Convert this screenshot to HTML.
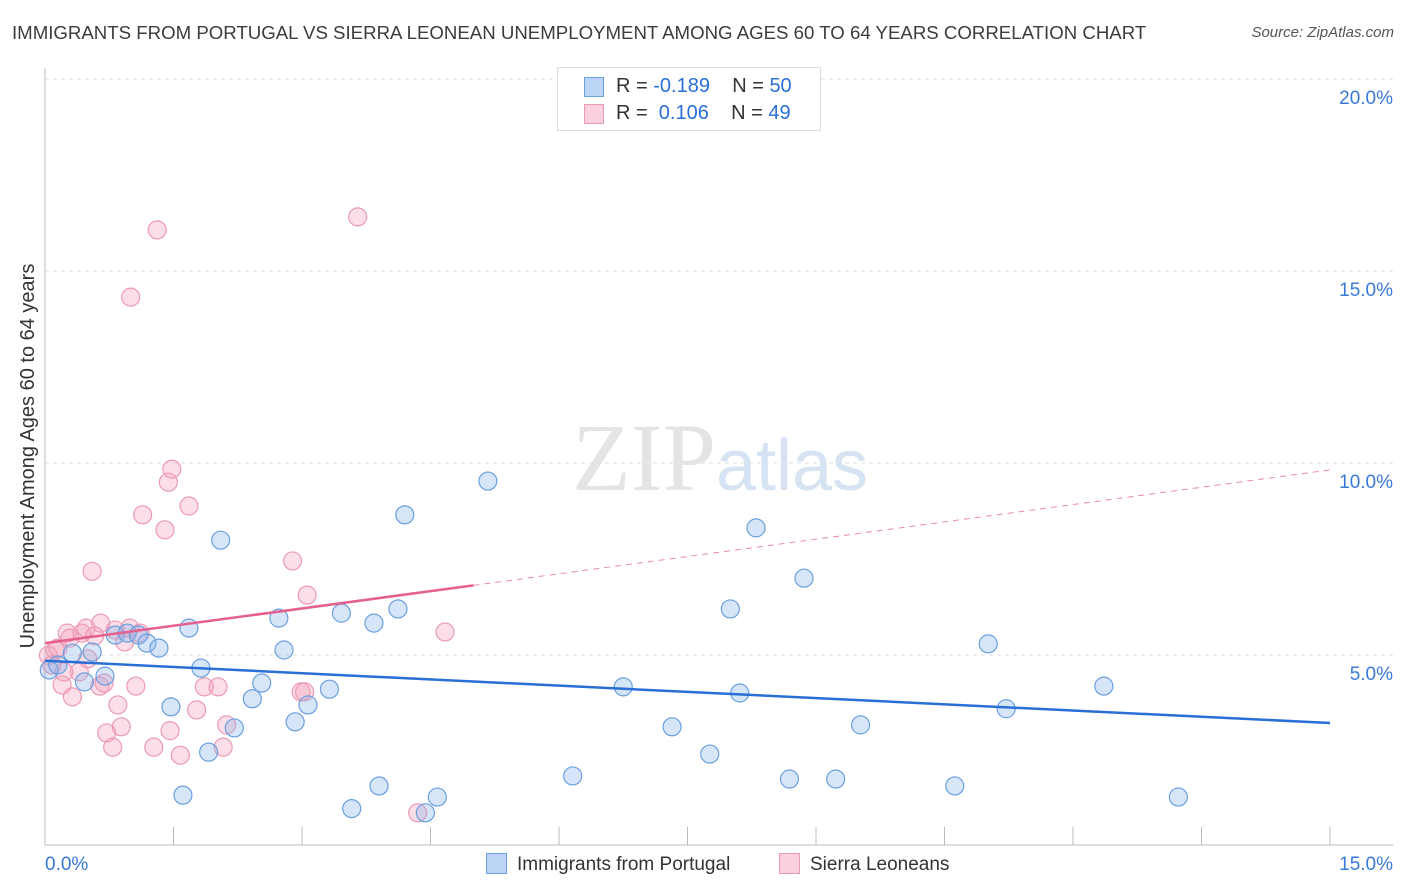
<!DOCTYPE html>
<html><head><meta charset="utf-8"><style>
body{margin:0;background:#fff;font-family:"Liberation Sans",sans-serif;}
#wrap{position:relative;width:1406px;height:892px;overflow:hidden}
.t{position:absolute;white-space:nowrap}
</style></head><body>
<div id="wrap">
<div class="t" style="left:12px;top:22px;font-size:18.65px;color:#3c3c3c">IMMIGRANTS FROM PORTUGAL VS SIERRA LEONEAN UNEMPLOYMENT AMONG AGES 60 TO 64 YEARS CORRELATION CHART</div>
<div class="t" style="right:12px;top:24px;font-size:15px;color:#555;font-style:italic">Source: ZipAtlas.com</div>
<svg id="svg" width="1406" height="892" style="position:absolute;left:0;top:0"></svg>
</div>
<script>
const yTicks=[5,10,15,20];
const xTickLabels=["0.0%","15.0%"];
const blueX=[0.05,0.15,0.32,0.55,0.46,0.7,0.82,0.96,1.09,1.19,1.33,1.47,1.61,1.68,1.82,1.91,2.05,2.21,2.42,2.53,2.73,2.79,2.92,3.07,3.32,3.46,3.58,3.84,3.90,4.12,4.20,4.58,4.44,5.17,6.16,6.75,7.32,7.76,8.0,8.11,8.30,8.69,8.86,9.23,9.52,10.62,11.01,11.22,12.36,13.23];
const blueY=[4.61,4.74,5.05,5.08,4.3,4.45,5.52,5.57,5.52,5.31,5.18,3.65,1.35,5.70,4.66,2.47,7.99,3.1,3.86,4.27,5.96,5.13,3.26,3.7,4.11,6.09,1.0,5.83,1.59,6.2,8.65,1.3,0.89,9.53,1.85,4.17,3.13,2.42,6.2,4.01,8.31,1.77,7.0,1.77,3.18,1.59,5.29,3.6,4.19,1.3];
const pinkX=[0.04,0.08,0.12,0.2,0.26,0.32,0.4,0.43,0.48,0.55,0.58,0.65,0.69,0.72,0.79,0.82,0.85,0.89,0.93,1.0,1.06,1.11,1.14,1.27,1.31,1.4,1.44,1.46,1.48,1.58,1.68,1.77,1.86,2.02,2.08,2.12,2.89,2.99,3.03,3.06,3.65,4.35,4.67,0.64,0.5,0.15,0.29,0.99,0.22];
const pinkY=[4.99,4.74,5.13,4.22,5.57,3.91,4.56,5.57,5.7,7.18,5.5,5.83,4.27,2.97,2.6,5.65,3.7,3.13,5.34,14.32,4.19,5.57,8.65,2.6,16.07,8.26,9.5,3.03,9.84,2.39,8.88,3.57,4.17,4.17,2.6,3.18,7.45,4.04,4.04,6.56,16.41,0.89,5.6,4.19,4.9,5.18,5.44,5.7,4.56];
const blueLine=[4.85,3.23];
const pinkLine=[5.31,9.82];
const pinkSolidEnd=5.0;
const X0=45,X1=1330,Y0=847,PY=38.4;
const sx=v=>X0+v/15*(X1-X0), sy=v=>Y0-v*PY;
const svg=document.getElementById('svg');const NS='http://www.w3.org/2000/svg';
function mk(tag,attrs,parent){const e=document.createElementNS(NS,tag);for(const k in attrs)e.setAttribute(k,attrs[k]);(parent||svg).appendChild(e);return e;}
yTicks.forEach(t=>{
 const g=mk('line',{x1:X0,x2:1393,y1:sy(t),y2:sy(t),stroke:'#ddd','stroke-dasharray':'4,4'});
 
 
 const l=mk('text',{x:1393,y:sy(t)+25,'text-anchor':'end','font-size':19,fill:'#3a78d6','font-family':'Liberation Sans'});
 l.textContent=t.toFixed(1)+'%';
 
 
});
const ax=mk('line',{x1:X0,x2:X0,y1:68,y2:845,stroke:'#bbb'});


const bx=mk('line',{x1:X0,x2:1393,y1:845,y2:845,stroke:'#bbb'});


for(let i=0;i<=10;i++){const tk=mk('line',{x1:sx(i*1.5),x2:sx(i*1.5),y1:827,y2:845,stroke:'#bbb'});
 
 }
[[0,'start',45],[15,'end',1393]].forEach((d,i)=>{const l=mk('text',{x:d[2],y:870,'text-anchor':d[1],'font-size':19,fill:'#3a78d6','font-family':'Liberation Sans'});l.textContent=xTickLabels[i];
 
 });
const yt=mk('text',{transform:'translate(34,456) rotate(-90)','text-anchor':'middle','font-size':20,fill:'#333','font-family':'Liberation Sans'});yt.textContent='Unemployment Among Ages 60 to 64 years';


const wm=mk('text',{x:720,y:490,'text-anchor':'middle','font-size':96,'font-family':'Liberation Serif',fill:'#e4e4e4'});wm.innerHTML='ZIP<tspan fill="#d6e3f3" font-family="Liberation Sans" font-size="72">atlas</tspan>';


function dots(xs,ys,fill,stroke,name){xs.forEach((x,i)=>{const c=mk('circle',{cx:sx(x),cy:sy(ys[i]),r:9,fill:fill,stroke:stroke,'stroke-width':1.2});
 
 });}
dots(pinkX,pinkY,'rgba(244,160,186,0.35)','#ec9ab3','sierra-leonean-point');
dots(blueX,blueY,'rgba(140,180,235,0.35)','#6a9fe0','portugal-point');
const slope=(pinkLine[1]-pinkLine[0])/15;
const pl=mk('line',{x1:sx(0),y1:sy(pinkLine[0]),x2:sx(pinkSolidEnd),y2:sy(pinkLine[0]+slope*pinkSolidEnd),stroke:'#e4608e','stroke-width':2.5});


const pd=mk('line',{x1:sx(pinkSolidEnd),y1:sy(pinkLine[0]+slope*pinkSolidEnd),x2:sx(15),y2:sy(pinkLine[1]),stroke:'#e98aaa','stroke-width':1,'stroke-dasharray':'6,5'});


const bl=mk('line',{x1:sx(0),y1:sy(blueLine[0]),x2:sx(15),y2:sy(blueLine[1]),stroke:'#2a6fd6','stroke-width':2.5});


</script>
<div class="t" style="left:557px;top:67px;width:262px;height:62px;border:1px solid #ddd;background:#fff;font-size:20px;color:#333">
 <div style="position:absolute;left:26px;top:9px;width:18px;height:18px;background:#bcd5f6;border:1px solid #6a9fe0"></div>
 <div style="position:absolute;left:58px;top:7px">R = <span style="color:#2a6fd6">-0.189</span>&nbsp;&nbsp;&nbsp; N = <span style="color:#2a6fd6">50</span></div>
 <div style="position:absolute;left:26px;top:36px;width:18px;height:18px;background:#fbd0dd;border:1px solid #ec9ab3"></div>
 <div style="position:absolute;left:58px;top:34px">R = &nbsp;<span style="color:#2a6fd6">0.106</span>&nbsp;&nbsp;&nbsp; N = <span style="color:#2a6fd6">49</span></div>
</div>
<div class="t" style="left:486px;top:853px;font-size:19px;color:#333"><span style="display:inline-block;width:19px;height:19px;background:#bcd5f6;border:1px solid #6a9fe0;vertical-align:-4px;margin-right:10px"></span>Immigrants from Portugal</div>
<div class="t" style="left:779px;top:853px;font-size:19px;color:#333"><span style="display:inline-block;width:19px;height:19px;background:#fbd0dd;border:1px solid #ec9ab3;vertical-align:-4px;margin-right:10px"></span>Sierra Leoneans</div>
</body></html>
